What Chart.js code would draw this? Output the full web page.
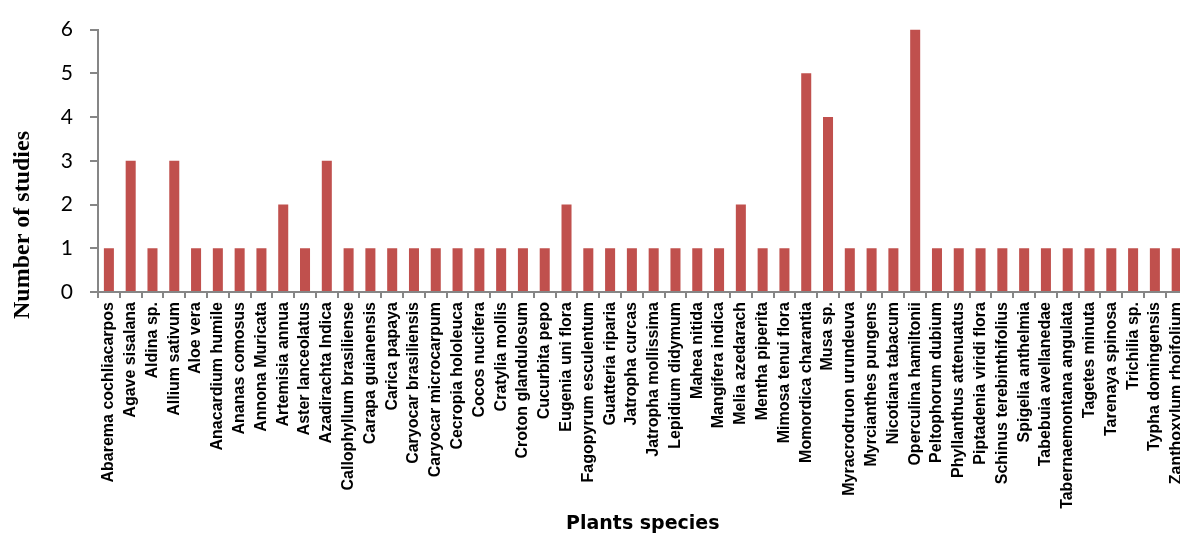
<!DOCTYPE html>
<html>
<head>
<meta charset="utf-8">
<script src="https://cdn.jsdelivr.net/npm/chart.js@4/dist/chart.umd.min.js"></script>
<style>
  html, body { margin: 0; padding: 0; overflow: hidden; background: #fff; }
  #wrap { width: 1200px; height: 541px; }
</style>
</head>
<body>
<div id="wrap"><canvas id="c" width="1200" height="541"></canvas></div>
<script>
const species = [
  "Abarema cochliacarpos", "Agave sisalana", "Aldina sp.", "Allium sativum", "Aloe vera",
  "Anacardium humile", "Ananas comosus", "Annona Muricata", "Artemisia annua", "Aster lanceolatus",
  "Azadirachta Indica", "Callophyllum brasiliense", "Carapa guianensis", "Carica papaya", "Caryocar brasiliensis",
  "Caryocar microcarpum", "Cecropia hololeuca", "Cocos nucifera", "Cratylia mollis", "Croton glandulosum",
  "Cucurbita pepo", "Eugenia uni flora", "Fagopyrum esculentum", "Guatteria riparia", "Jatropha curcas",
  "Jatropha mollissima", "Lepidium didymum", "Mahea nitida", "Mangifera indica", "Melia azedarach",
  "Mentha piperita", "Mimosa tenui flora", "Momordica charantia", "Musa sp.", "Myracrodruon urundeuva",
  "Myrcianthes pungens", "Nicotiana tabacum", "Operculina hamiltonii", "Peltophorum dubium", "Phyllanthus attenuatus",
  "Piptadenia viridi flora", "Schinus terebinthifolius", "Spigelia anthelmia", "Tabebuia avellanedae", "Tabernaemontana angulata",
  "Tagetes minuta", "Tarenaya spinosa", "Trichilia sp.", "Typha domingensis", "Zanthoxylum rhoifolium"
];
const studies = [
  1, 3, 1, 3, 1,
  1, 1, 1, 2, 1,
  3, 1, 1, 1, 1,
  1, 1, 1, 1, 1,
  1, 2, 1, 1, 1,
  1, 1, 1, 1, 2,
  1, 1, 5, 4, 1,
  1, 1, 6, 1, 1,
  1, 1, 1, 1, 1,
  1, 1, 1, 1, 1
];
const yTicks = [0, 1, 2, 3, 4, 5, 6];
const yTitle = "Number of studies";
const xTitle = "Plants species";

const axisGrey = '#868686';

const yTitlePlugin = {
  id: 'yTitlePlugin',
  afterDraw(chart) {
    const ctx = chart.ctx;
    ctx.save();
    ctx.translate(23, 225);
    ctx.rotate(-Math.PI / 2);
    ctx.font = 'bold 24px "Liberation Serif", "DejaVu Serif", serif';
    ctx.fillStyle = '#000';
    ctx.textAlign = 'center';
    ctx.textBaseline = 'middle';
    ctx.fillText(yTitle, 0, 0);
    ctx.restore();
  }
};

new Chart(document.getElementById('c'), {
  type: 'bar',
  data: {
    labels: species,
    datasets: [{
      data: studies,
      backgroundColor: '#C0504D',
      borderWidth: 0,
      barPercentage: 0.46,
      categoryPercentage: 1.0
    }]
  },
  options: {
    responsive: false,
    animation: false,
    devicePixelRatio: 1,
    layout: { padding: { top: 27, right: 12, bottom: 0, left: 0 } },
    plugins: { legend: { display: false }, tooltip: { enabled: false } },
    scales: {
      x: {
        offset: true,
        border: { display: true, color: axisGrey, width: 2 },
        grid: { display: true, drawOnChartArea: false, drawTicks: true, tickLength: 6, color: axisGrey, lineWidth: 2, offset: true },
        ticks: {
          autoSkip: false, maxRotation: 90, minRotation: 90, padding: 4,
          color: '#000',
          font: { family: '"Liberation Sans Narrow", "Liberation Sans", Arial, sans-serif', size: 16, weight: 'bold' }
        },
        title: {
          display: true, text: xTitle, color: '#000',
          font: { family: '"DejaVu Sans", Verdana, sans-serif', size: 19, weight: 'bold' },
          padding: { top: 0, bottom: 6 }
        },
        afterFit(scale) { scale.height = 249; }
      },
      y: {
        min: 0, max: 6,
        afterBuildTicks(scale) { scale.ticks = yTicks.map(v => ({ value: v })); },
        border: { display: true, color: axisGrey, width: 2 },
        grid: { display: true, drawOnChartArea: false, drawTicks: true, tickLength: 8, color: axisGrey, lineWidth: 2 },
        ticks: {
          padding: 17, color: '#000',
          font: { family: 'Lato, "Open Sans", sans-serif', size: 21 }
        },
        afterFit(scale) { scale.width = 98; }
      }
    }
  },
  plugins: [yTitlePlugin]
});
</script>
</body>
</html>
